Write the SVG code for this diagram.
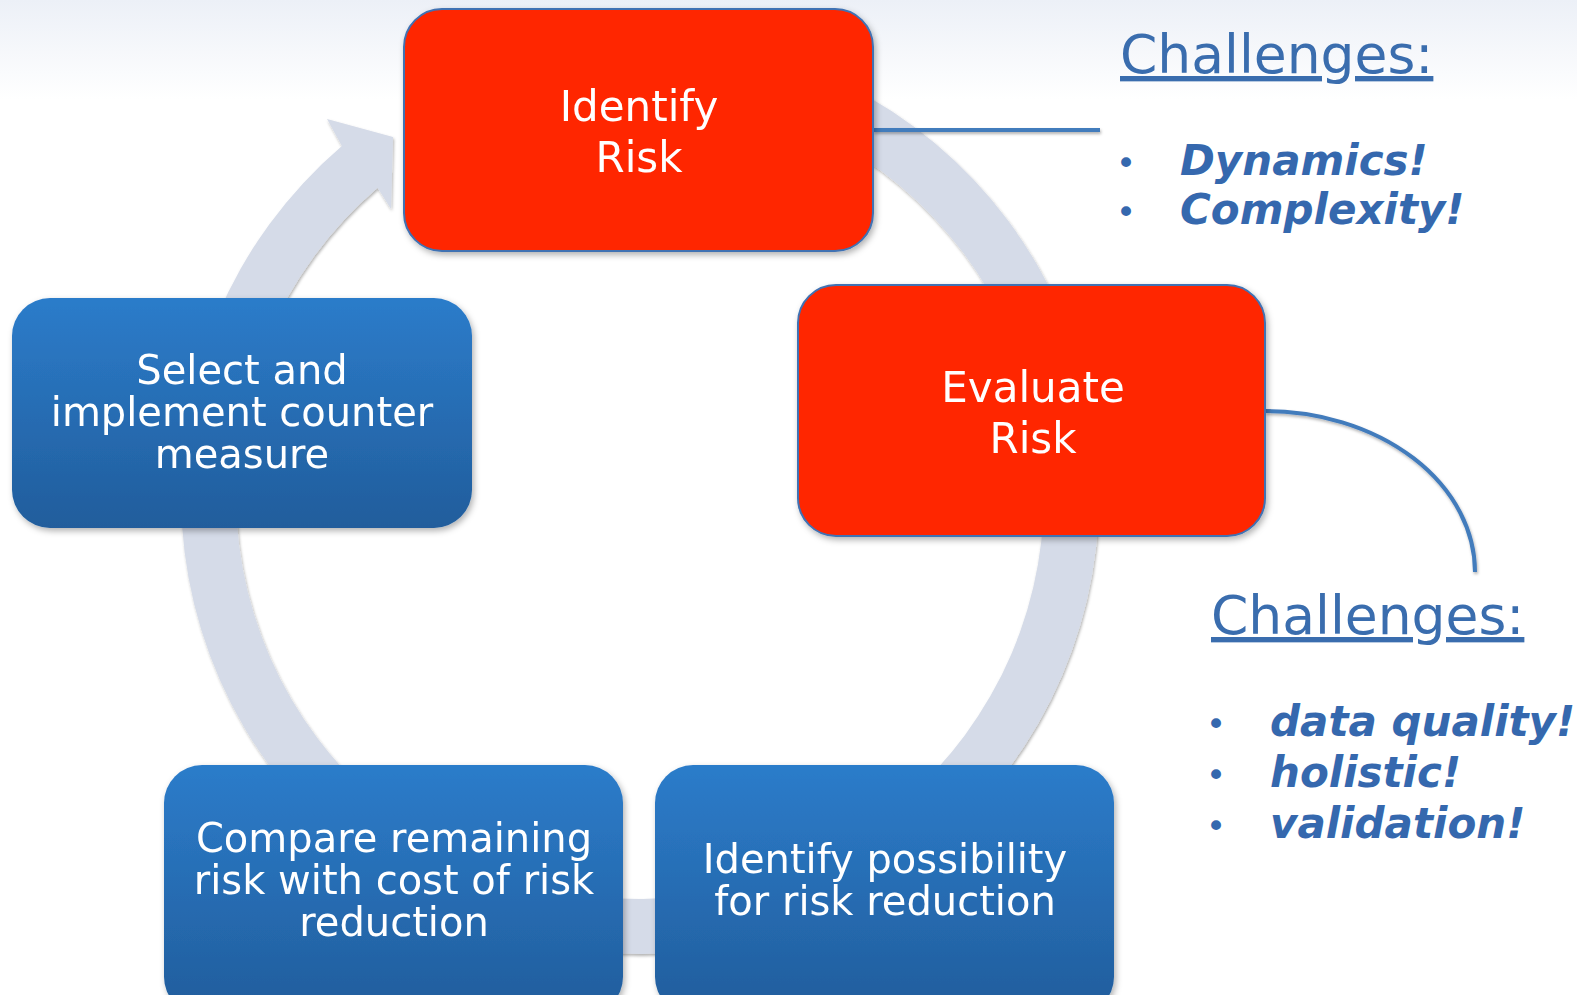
<svg xmlns="http://www.w3.org/2000/svg" width="1577" height="995" viewBox="0 0 1577 995">
  <defs>
    <linearGradient id="bg" x1="0" y1="0" x2="0" y2="1">
      <stop offset="0" stop-color="#ECF0F7"/>
      <stop offset="0.1" stop-color="#FFFFFF"/>
      <stop offset="1" stop-color="#FFFFFF"/>
    </linearGradient>
    <linearGradient id="blue" x1="0" y1="0" x2="0" y2="1">
      <stop offset="0" stop-color="#2C7CCA"/>
      <stop offset="1" stop-color="#215D9C"/>
    </linearGradient>
    <filter id="sh" x="-10%" y="-10%" width="120%" height="130%">
      <feDropShadow dx="2" dy="3" stdDeviation="3" flood-color="#000" flood-opacity="0.3"/>
    </filter>
    <filter id="shs" x="-10%" y="-10%" width="120%" height="130%">
      <feDropShadow dx="1" dy="2" stdDeviation="1.5" flood-color="#000" flood-opacity="0.3"/>
    </filter>
  </defs>
  <style>
    .red { fill: #FF2500; stroke: #3F72B3; stroke-width: 2; }
    .blue { fill: url(#blue); }
    .lbl { font-family: "DejaVu Sans", Verdana, sans-serif; fill: #FFFFFF; text-anchor: middle; }
    .ch { font-family: "DejaVu Sans", Verdana, sans-serif; fill: #3A6DAE; font-size: 53.5px; text-decoration: underline; }
    .it { font-family: "DejaVu Sans", Verdana, sans-serif; fill: #3568AE; font-size: 42px; font-weight: bold; font-style: italic; }
    .bul { font-family: "DejaVu Sans", Verdana, sans-serif; fill: #3568AE; font-size: 34px; }
    .con { fill: none; stroke: #437BBC; stroke-width: 4; }
  </style>
  <rect x="0" y="0" width="1577" height="995" fill="url(#bg)"/>

  <g id="cycle-ring" filter="url(#shs)">
    <path d="M640,36 A459,459 0 1 1 341.9,146 L327,119 L393,137 L391,209 L377.6,187.8 A404,404 0 1 0 640,91 Z" fill="#D5DBE8"/>
  </g>

  <g id="connectors" filter="url(#shs)">
    <path class="con" d="M873,130 L1100,130"/>
    <path class="con" d="M1265,411 A210,161 0 0 1 1475,572"/>
  </g>

  <g id="identify-risk" filter="url(#sh)">
    <rect class="red" x="404" y="9" width="469" height="242" rx="38"/>
    <text class="lbl" font-size="42" x="639" y="121">Identify</text>
    <text class="lbl" font-size="42" x="639" y="172">Risk</text>
  </g>

  <g id="evaluate-risk" filter="url(#sh)">
    <rect class="red" x="798" y="285" width="467" height="251" rx="38"/>
    <text class="lbl" font-size="42" x="1033" y="402">Evaluate</text>
    <text class="lbl" font-size="42" x="1033" y="453">Risk</text>
  </g>

  <g id="select-implement" filter="url(#sh)">
    <rect class="blue" x="12" y="298" width="460" height="230" rx="38"/>
    <text class="lbl" font-size="40" x="242" y="384">Select and</text>
    <text class="lbl" font-size="40" x="242" y="426">implement counter</text>
    <text class="lbl" font-size="40" x="242" y="468">measure</text>
  </g>

  <g id="compare-remaining" filter="url(#sh)">
    <rect class="blue" x="164" y="765" width="459" height="250" rx="38"/>
    <text class="lbl" font-size="40" x="394" y="852">Compare remaining</text>
    <text class="lbl" font-size="40" x="394" y="894">risk with cost of risk</text>
    <text class="lbl" font-size="40" x="394" y="936">reduction</text>
  </g>

  <g id="identify-possibility" filter="url(#sh)">
    <rect class="blue" x="655" y="765" width="459" height="250" rx="38"/>
    <text class="lbl" font-size="40" x="885" y="873">Identify possibility</text>
    <text class="lbl" font-size="40" x="885" y="915">for risk reduction</text>
  </g>

  <g id="challenges-1">
    <text class="ch" x="1120" y="73">Challenges:</text>
    <text class="bul" x="1116" y="175">•</text>
    <text class="it" x="1180" y="175">Dynamics!</text>
    <text class="bul" x="1116" y="224">•</text>
    <text class="it" x="1180" y="224">Complexity!</text>
  </g>

  <g id="challenges-2">
    <text class="ch" x="1211" y="634">Challenges:</text>
    <text class="bul" x="1206" y="736">•</text>
    <text class="it" x="1270" y="736">data quality!</text>
    <text class="bul" x="1206" y="787">•</text>
    <text class="it" x="1270" y="787">holistic!</text>
    <text class="bul" x="1206" y="838">•</text>
    <text class="it" x="1270" y="838">validation!</text>
  </g>
</svg>
